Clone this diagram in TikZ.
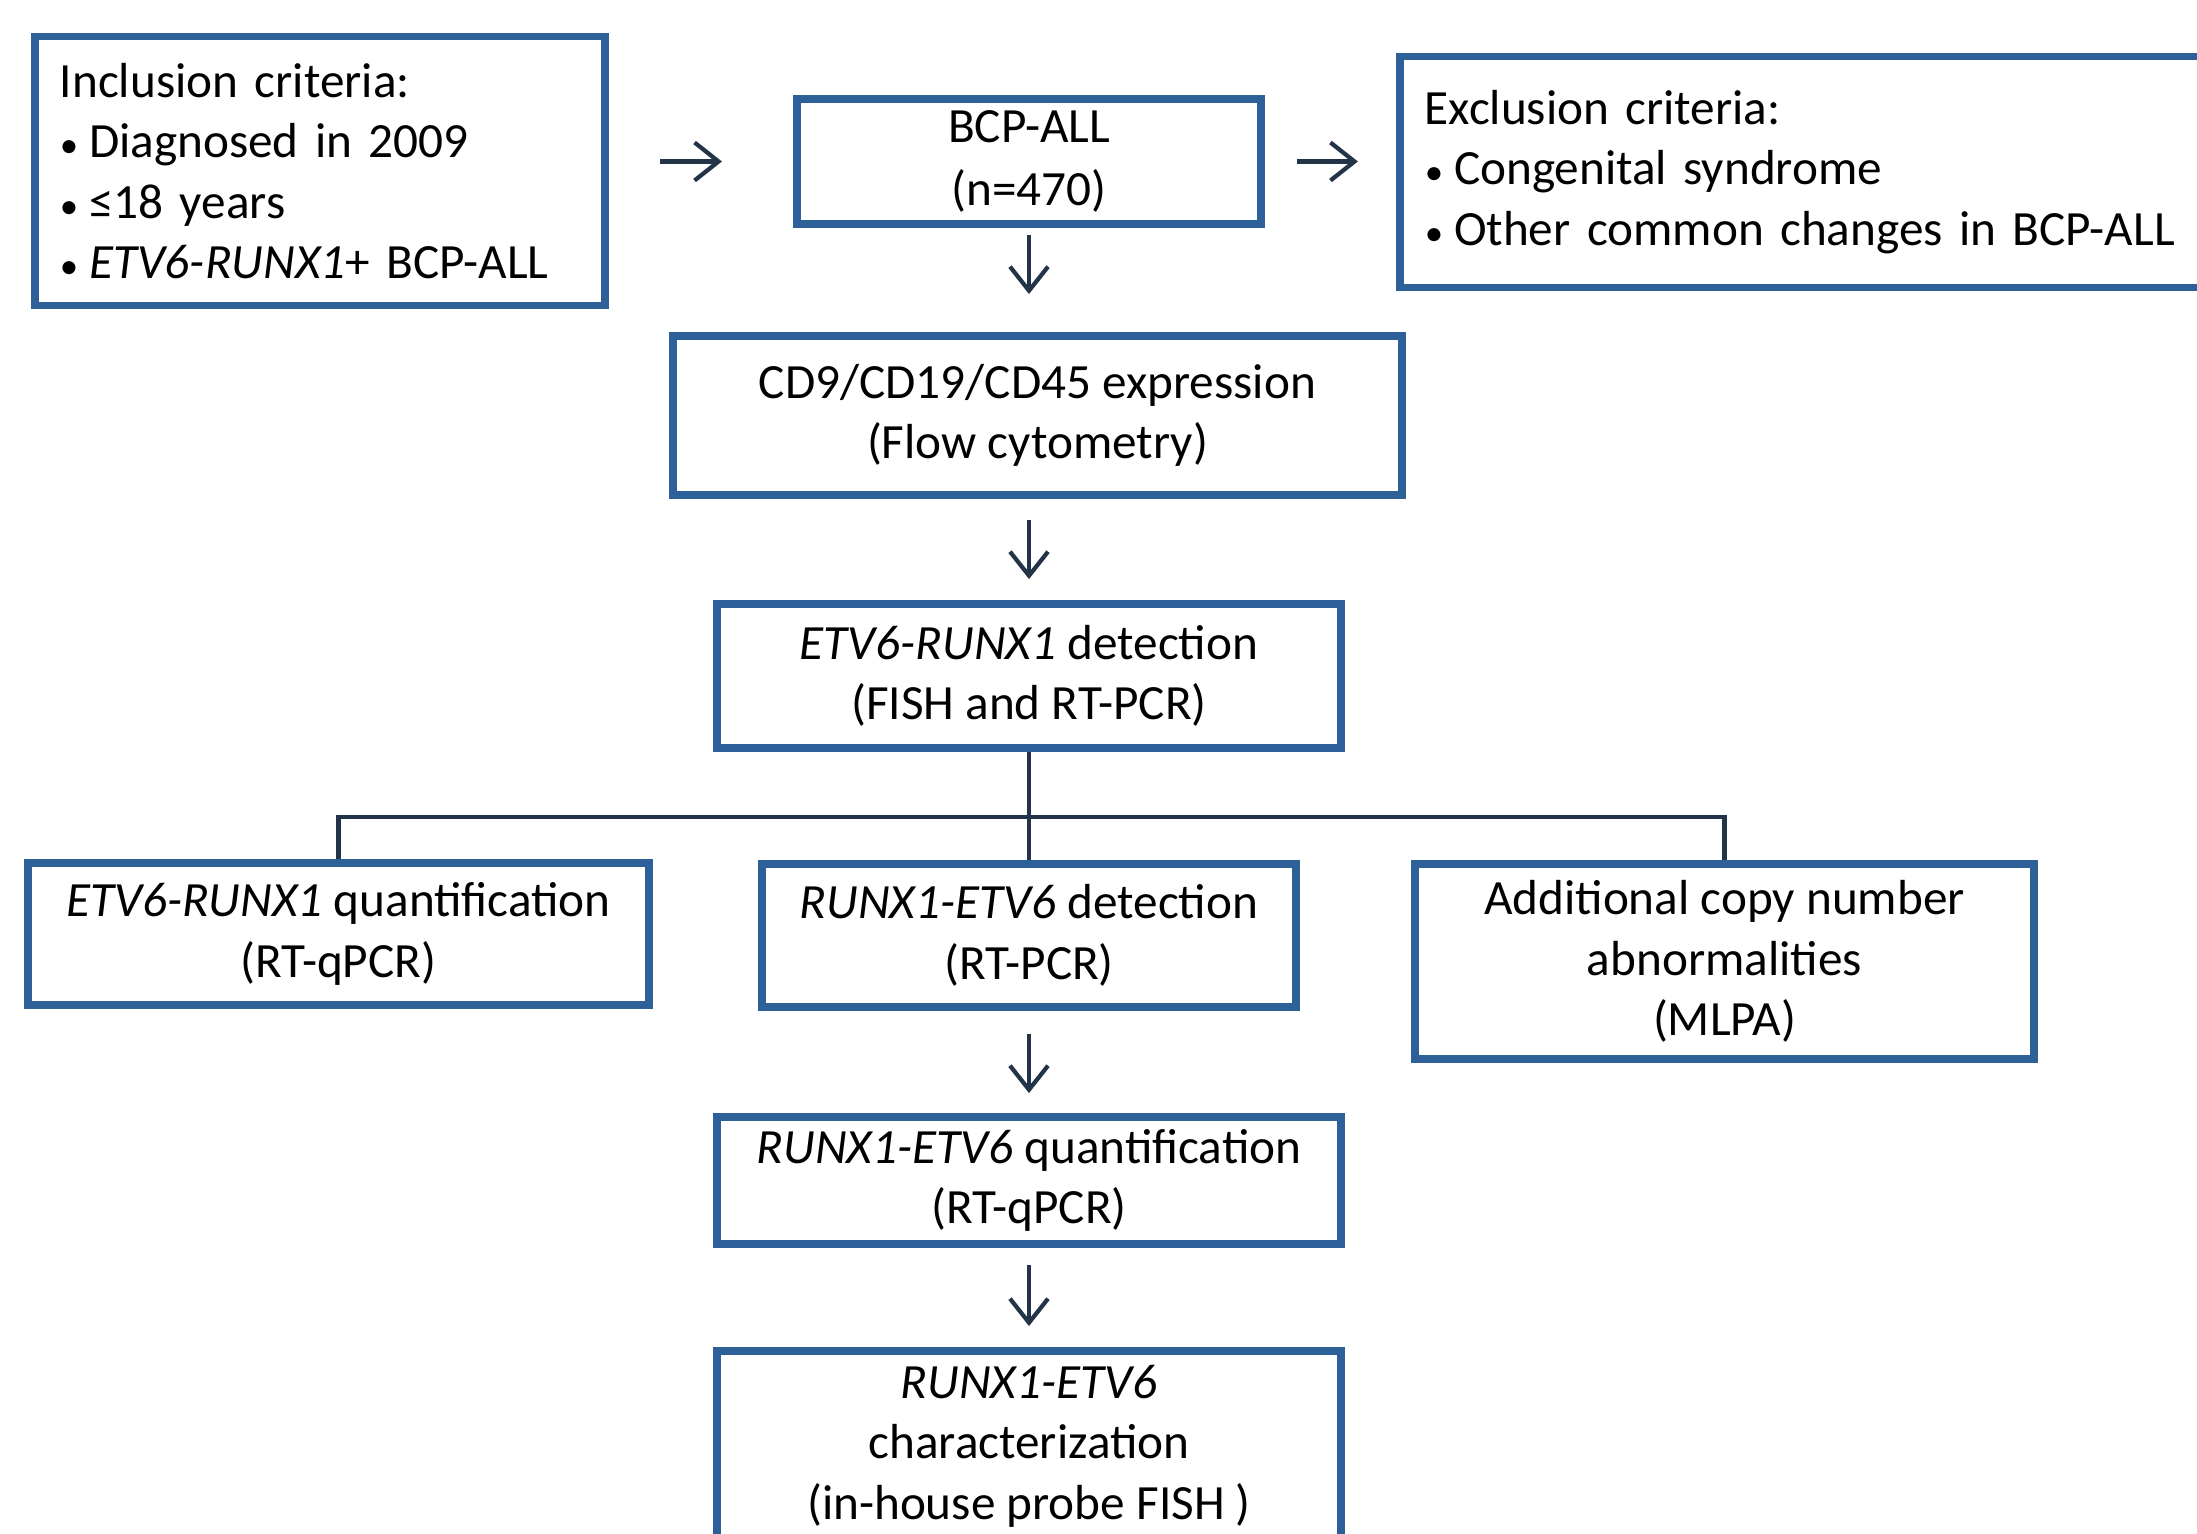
\documentclass[tikz,border=0pt]{standalone}
\usepackage{fontspec}
\setmainfont{Carlito}
\usetikzlibrary{arrows.meta,positioning}
\definecolor{boxblue}{RGB}{45,95,152}
\definecolor{linkgray}{RGB}{36,52,72}
\newcommand{\itembullet}{{\fontsize{10.5}{10}\selectfont•}\hspace{0.22em}}

\begin{document}
\begin{tikzpicture}[x=0.01cm,y=-0.01cm,font=\fontsize{14}{17.2}\selectfont]
  \useasboundingbox (0,0) rectangle (2197,1533);
  \clip (0,0) rectangle (2197,1533);
  \begin{scope}[
    every node/.style={
      draw=boxblue,
      line width=2.2pt,
      text=black,
      inner sep=0pt,
      align=center,
    },
    listbox/.style={align=left,inner xsep=0.25cm},
    ]
    \node[listbox,text width=5.2cm,minimum height=2.69cm](incl) at (320,171)
      {Inclusion criteria:\\\itembullet Diagnosed in 2009\\\itembullet ≤18 years\\\itembullet \textit{ETV6-RUNX1}+ BCP-ALL};
    \node[minimum width=4.64cm,minimum height=1.25cm](bcp) at (1029,161.5)
      {BCP-ALL\\[0.5pt](n=470)};
    \node[listbox,text width=7.91cm,minimum height=2.31cm](excl) at (1820.5,172)
      {Exclusion criteria:\\\itembullet Congenital syndrome\\\itembullet Other common changes in BCP-ALL};
    \node[minimum width=7.29cm,minimum height=1.59cm](cd) at (1037.5,415.5)
      {CD9/CD19/CD45 expression\\(Flow cytometry)};
    \node[minimum width=6.24cm,minimum height=1.44cm](det) at (1029,676)
      {\textit{ETV6-RUNX1} detection\\(FISH and RT-PCR)};
    \node[minimum width=6.21cm,minimum height=1.42cm](quant) at (338.5,934)
      {\textit{ETV6-RUNX1} quantification\\(RT-qPCR)};
    \node[minimum width=5.34cm,minimum height=1.43cm](rdet) at (1029,935.5)
      {\textit{RUNX1-ETV6} detection\\(RT-PCR)};
    \node[minimum width=6.19cm,minimum height=1.95cm](cna) at (1724.5,961.5)
      {Additional copy number\\abnormalities\\(MLPA)};
    \node[minimum width=6.24cm,minimum height=1.27cm](rquant) at (1029,1180.5)
      {\textit{RUNX1-ETV6} quantification\\(RT-qPCR)};
    \node[minimum width=6.24cm,minimum height=1.90cm](rchar) at (1029,1446)
      {\textit{RUNX1-ETV6}\\characterization\\(in-house probe FISH )};
  \end{scope}
  \begin{scope}[every path/.style={draw=linkgray,line width=1.2pt},
    >={Straight Barb[length=0.24cm,width=0.38cm]}]
    \path[->,shorten <=0.51cm,shorten >=0.71cm] (incl.east |- bcp.west) -- (bcp.west);
    \path[->,shorten <=0.32cm,shorten >=0.38cm] (bcp.east) -- (excl.west |- bcp.east);
    \path[->,shorten <=0.07cm,shorten >=0.38cm] (bcp.south) -- (bcp.south |- cd.north);
    \path[->,shorten <=0.21cm,shorten >=0.21cm] (det.north |- cd.south) -- (det.north);
    \coordinate (split) at (1029,817);
    \path (det.south) -- (rdet.north);
    \path (quant.north) |- (split) -| (cna.north);
    \path[->,shorten <=0.23cm,shorten >=0.20cm] (rdet.south) -- (rquant.north);
    \path[->,shorten <=0.17cm,shorten >=0.21cm] (rquant.south) -- (rchar.north);
  \end{scope}
\end{tikzpicture}
\end{document}
